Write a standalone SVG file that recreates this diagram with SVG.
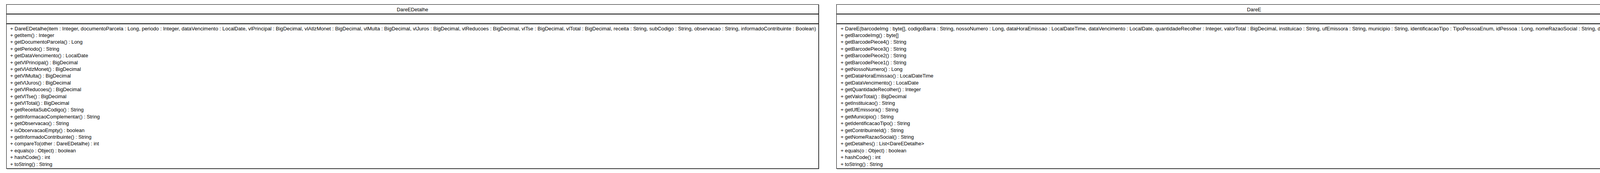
<svg xmlns="http://www.w3.org/2000/svg" width="4296" height="444" viewBox="0 0 4296 444">
<style>
.box{fill:#fff;stroke:#000;stroke-width:1}
.shadow{fill:none;stroke:#666;stroke-width:2}
.sep{stroke:#000;stroke-width:2}
text{font-family:"Liberation Sans",Arial,sans-serif;font-size:12.8px;fill:#000}
.title{text-anchor:middle}
</style>
<rect width="4296" height="444" fill="#fff"/>
<g id="DareEDetalhe">
<polyline class="shadow" points="2096,12 2096,433 17,433"/>
<rect class="box" x="16.5" y="11.5" width="2079" height="421"/>
<line class="sep" x1="16" y1="36" x2="2096" y2="36"/>
<line class="sep" x1="16" y1="61" x2="2096" y2="61"/>
<text class="title" x="1056" y="28.5">DareEDetalhe</text>
<text x="26" y="77.5" textLength="2063" lengthAdjust="spacingAndGlyphs">+ DareEDetalhe(item : Integer, documentoParcela : Long, periodo : Integer, dataVencimento : LocalDate, vlPrincipal : BigDecimal, vlAtlzMonet : BigDecimal, vlMulta : BigDecimal, vlJuros : BigDecimal, vlReducoes : BigDecimal, vlTse : BigDecimal, vlTotal : BigDecimal, receita : String, subCodigo : String, observacao : String, informadoContribuinte : Boolean)</text>
<text x="26" y="94.9">+ getItem() : Integer</text>
<text x="26" y="112.3">+ getDocumentoParcela() : Long</text>
<text x="26" y="129.7">+ getPeriodo() : String</text>
<text x="26" y="147.1">+ getDataVencimento() : LocalDate</text>
<text x="26" y="164.5">+ getVlPrincipal() : BigDecimal</text>
<text x="26" y="181.9">+ getVlAtlzMonet() : BigDecimal</text>
<text x="26" y="199.3">+ getVlMulta() : BigDecimal</text>
<text x="26" y="216.7">+ getVlJuros() : BigDecimal</text>
<text x="26" y="234.1">+ getVlReducoes() : BigDecimal</text>
<text x="26" y="251.5">+ getVlTse() : BigDecimal</text>
<text x="26" y="268.9">+ getVlTotal() : BigDecimal</text>
<text x="26" y="286.3">+ getReceitaSubCodigo() : String</text>
<text x="26" y="303.7">+ getInformacaoComplementar() : String</text>
<text x="26" y="321.1">+ getObservacao() : String</text>
<text x="26" y="338.5">+ isObcervacaoEmpty() : boolean</text>
<text x="26" y="355.9">+ getInformadoContribuinte() : String</text>
<text x="26" y="373.3">+ compareTo(other : DareEDetalhe) : int</text>
<text x="26" y="390.7">+ equals(o : Object) : boolean</text>
<text x="26" y="408.1">+ hashCode() : int</text>
<text x="26" y="425.5">+ toString() : String</text>
</g>
<g id="DareE">
<polyline class="shadow" points="4280,12 4280,433 2142,433"/>
<rect class="box" x="2141.5" y="11.5" width="2138" height="421"/>
<line class="sep" x1="2141" y1="36" x2="4280" y2="36"/>
<line class="sep" x1="2141" y1="61" x2="4280" y2="61"/>
<text class="title" x="3210.5" y="28.5">DareE</text>
<text x="2152" y="77.5" textLength="2121" lengthAdjust="spacingAndGlyphs">+ DareE(barcodeImg : byte[], codigoBarra : String, nossoNumero : Long, dataHoraEmissao : LocalDateTime, dataVencimento : LocalDate, quantidadeRecolher : Integer, valorTotal : BigDecimal, instituicao : String, ufEmissora : String, municipio : String, identificacaoTipo : TipoPessoaEnum, idPessoa : Long, nomeRazaoSocial : String, detalhes : List&lt;DareEDetalhe&gt;)</text>
<text x="2152" y="94.9">+ getBarcodeImg() : byte[]</text>
<text x="2152" y="112.3">+ getBarcodePiece4() : String</text>
<text x="2152" y="129.7">+ getBarcodePiece3() : String</text>
<text x="2152" y="147.1">+ getBarcodePiece2() : String</text>
<text x="2152" y="164.5">+ getBarcodePiece1() : String</text>
<text x="2152" y="181.9">+ getNossoNumero() : Long</text>
<text x="2152" y="199.3">+ getDataHoraEmissao() : LocalDateTime</text>
<text x="2152" y="216.7">+ getDataVencimento() : LocalDate</text>
<text x="2152" y="234.1">+ getQuantidadeRecolher() : Integer</text>
<text x="2152" y="251.5">+ getValorTotal() : BigDecimal</text>
<text x="2152" y="268.9">+ getInstituicao() : String</text>
<text x="2152" y="286.3">+ getUfEmissora() : String</text>
<text x="2152" y="303.7">+ getMunicipio() : String</text>
<text x="2152" y="321.1">+ getIdentificacaoTipo() : String</text>
<text x="2152" y="338.5">+ getContribuinteId() : String</text>
<text x="2152" y="355.9">+ getNomeRazaoSocial() : String</text>
<text x="2152" y="373.3">+ getDetalhes() : List&lt;DareEDetalhe&gt;</text>
<text x="2152" y="390.7">+ equals(o : Object) : boolean</text>
<text x="2152" y="408.1">+ hashCode() : int</text>
<text x="2152" y="425.5">+ toString() : String</text>
</g>
<g id="connectors"/>
</svg>
